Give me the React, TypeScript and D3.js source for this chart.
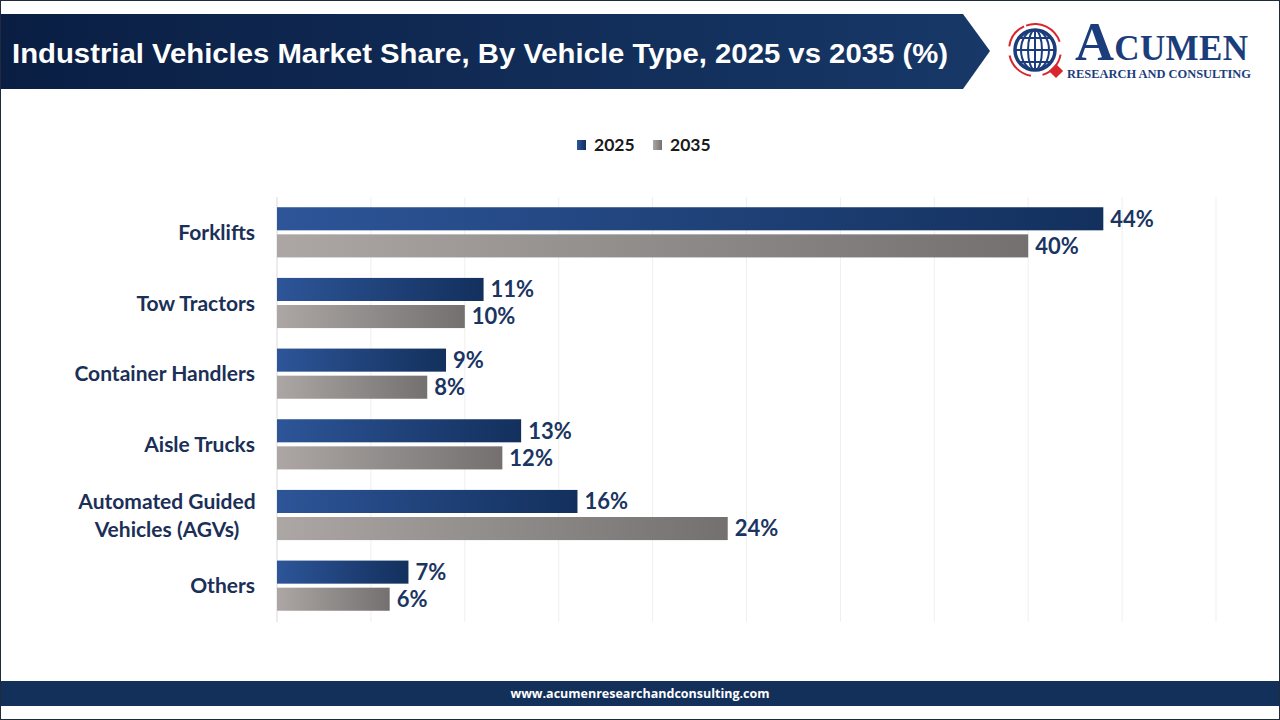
import React, { useEffect, useRef } from 'react';
import * as d3 from 'd3';

const categories = [
  'Forklifts',
  'Tow Tractors',
  'Container Handlers',
  'Aisle Trucks',
  'Automated Guided Vehicles (AGVs)',
  'Others',
];
const seriesNames = ['2025', '2035'];
const share2025 = [44, 11, 9, 13, 16, 7];
const share2035 = [40, 10, 8, 12, 24, 6];
const gridTicks = [0, 5, 10, 15, 20, 25, 30, 35, 40, 45, 50];

const W = 1280;
const H = 720;
const NAVY = '#13305b';
const LABEL = '#1b2f57';

// category labels that break onto two lines
const labelLines: Record<string, string[]> = {
  'Automated Guided Vehicles (AGVs)': ['Automated Guided', 'Vehicles (AGVs)'],
};

const App: React.FC = () => {
  const svgRef = useRef<SVGSVGElement>(null);

  useEffect(() => {
    if (!svgRef.current) return;
    const svg = d3.select(svgRef.current);
    svg.selectAll('*').remove();

    const defs = svg.append('defs');
    const grad = (id: string, from: string, to: string) => {
      const g = defs.append('linearGradient').attr('id', id).attr('x1', '0%').attr('x2', '100%').attr('y1', '0%').attr('y2', '0%');
      g.append('stop').attr('offset', '0%').attr('stop-color', from);
      g.append('stop').attr('offset', '100%').attr('stop-color', to);
    };
    grad('g2025', '#2d5598', '#13305d');
    grad('g2035', '#aca7a5', '#73706f');
    grad('gHead', '#0a1e43', '#173868');

    svg.append('rect').attr('width', W).attr('height', H).attr('fill', '#fff');

    // header banner with arrow tip
    svg.append('path')
      .attr('d', 'M1,14 L963,14 L990,51 L963,89 L1,89 Z')
      .attr('fill', 'url(#gHead)');
    svg.append('text')
      .attr('x', 12)
      .attr('y', 63)
      .attr('textLength', 936)
      .attr('lengthAdjust', 'spacingAndGlyphs')
      .style('font-family', '"Liberation Sans", Arial, sans-serif')
      .style('font-weight', 700)
      .style('font-size', '28px')
      .style('fill', '#fff')
      .text('Industrial Vehicles Market Share, By Vehicle Type, 2025 vs 2035 (%)');

    // logo: globe, circling arrows, diamond, wordmark
    const logo = svg.append('g').attr('transform', 'translate(1035,50)');
    const LOGO = '#1c3d7b';
    const RED = '#d8262c';
    const arcGen = d3.arc<any>();
    [[-0.35, 1.25], [1.75, 2.85], [3.3, 4.5], [4.85, 5.85]].forEach(([a0, a1]) => {
      logo.append('path')
        .attr('d', arcGen({ innerRadius: 25, outerRadius: 27, startAngle: a0, endAngle: a1 }) as string)
        .attr('fill', RED);
    });
    logo.append('circle').attr('r', 20).attr('fill', '#fff').attr('stroke', LOGO).attr('stroke-width', 3.5);
    [0.35, 0.7].forEach(k => {
      logo.append('ellipse').attr('rx', 20 * k).attr('ry', 20).attr('fill', 'none').attr('stroke', LOGO).attr('stroke-width', 2);
    });
    logo.append('line').attr('x1', 0).attr('x2', 0).attr('y1', -20).attr('y2', 20).attr('stroke', LOGO).attr('stroke-width', 2);
    [-12, 0, 12].forEach(y => {
      const half = Math.sqrt(20 * 20 - y * y);
      logo.append('line').attr('x1', -half).attr('x2', half).attr('y1', y).attr('y2', y).attr('stroke', LOGO).attr('stroke-width', 2);
    });
    logo.append('rect').attr('x', -5).attr('y', -5).attr('width', 10).attr('height', 10)
      .attr('transform', 'translate(21,21) rotate(45)').attr('fill', RED);

    const word = svg.append('text')
      .attr('x', 1075)
      .attr('y', 60)
      .attr('textLength', 173)
      .attr('lengthAdjust', 'spacing')
      .style('font-family', '"Liberation Serif", "Times New Roman", serif')
      .style('font-weight', 700)
      .style('fill', LOGO);
    word.append('tspan').style('font-size', '54px').text('A');
    word.append('tspan').style('font-size', '35px').text('CUMEN');
    svg.append('text')
      .attr('x', 1067)
      .attr('y', 78)
      .attr('textLength', 184)
      .attr('lengthAdjust', 'spacingAndGlyphs')
      .style('font-family', '"Liberation Serif", "Times New Roman", serif')
      .style('font-weight', 700)
      .style('font-size', '12px')
      .style('fill', LOGO)
      .text('RESEARCH AND CONSULTING');

    // legend
    const legend = svg.append('g').attr('transform', 'translate(577,145)');
    seriesNames.forEach((s, i) => {
      const lg = legend.append('g').attr('transform', `translate(${i * 76},0)`);
      lg.append('rect').attr('x', 0).attr('y', -5).attr('width', 9).attr('height', 10).attr('fill', `url(#g${s})`);
      lg.append('text')
        .attr('x', 17)
        .attr('y', 0)
        .attr('dy', '0.35em')
        .style('font-family', 'Lato, "Open Sans", sans-serif')
        .style('font-weight', 700)
        .style('font-size', '17.5px')
        .style('fill', '#1a1a1a')
        .text(s);
    });

    // scales
    const x = d3.scaleLinear().domain([0, 50]).range([277, 1216]);
    const y = d3.scaleBand<string>().domain(categories).range([197, 621]).paddingInner(0.29).paddingOuter(0.145);
    const ySub = d3.scaleBand<string>().domain(seriesNames).range([0, y.bandwidth()]).paddingInner(0.148);

    // gridlines
    svg.append('g')
      .selectAll('line')
      .data(gridTicks.slice(1))
      .enter()
      .append('line')
      .attr('x1', d => x(d))
      .attr('x2', d => x(d))
      .attr('y1', 197)
      .attr('y2', 622)
      .style('stroke', '#efefef')
      .style('stroke-width', 1);
    svg.append('line')
      .attr('x1', x(0)).attr('x2', x(0)).attr('y1', 197).attr('y2', 622)
      .style('stroke', '#d9d9d9').style('stroke-width', 1);

    // bars + value labels
    const rows = categories.map((c, i) => ({ c, vals: [share2025[i], share2035[i]] }));
    rows.forEach(r => {
      const g = svg.append('g').attr('transform', `translate(0,${y(r.c)})`);
      r.vals.forEach((v, j) => {
        const s = seriesNames[j];
        g.append('rect')
          .attr('x', x(0))
          .attr('y', ySub(s)!)
          .attr('width', x(v) - x(0))
          .attr('height', ySub.bandwidth())
          .attr('fill', `url(#g${s})`);
        g.append('text')
          .attr('x', x(v) + 7)
          .attr('y', ySub(s)! + ySub.bandwidth() / 2)
          .attr('dy', '0.36em')
          .style('font-family', 'Lato, "Open Sans", sans-serif')
          .style('font-weight', 700)
          .style('font-size', '22px')
          .style('fill', '#1a3561')
          .text(`${v}%`);
      });
    });

    // category labels
    categories.forEach(c => {
      const lines = labelLines[c] || [c];
      const cy = y(c)! + y.bandwidth() / 2;
      const t = svg.append('text')
        .attr('y', cy)
        .style('font-family', 'Lato, "Open Sans", sans-serif')
        .style('font-weight', 700)
        .style('font-size', '21px')
        .style('fill', LABEL);
      if (lines.length === 1) {
        t.attr('x', 255).attr('text-anchor', 'end').attr('dy', '0.36em').text(c);
      } else {
        t.attr('x', 167).attr('text-anchor', 'middle');
        lines.forEach((l, k) => {
          t.append('tspan')
            .attr('x', 167)
            .attr('dy', k === 0 ? `${0.36 - 0.66}em` : '1.33em')
            .text(l);
        });
      }
    });

    // footer band
    svg.append('rect').attr('x', 1).attr('y', 681).attr('width', W - 2).attr('height', 25).attr('fill', NAVY);
    svg.append('text')
      .attr('x', W / 2)
      .attr('y', 694)
      .attr('dy', '0.35em')
      .attr('text-anchor', 'middle')
      .style('font-family', '"Open Sans", sans-serif')
      .style('font-weight', 700)
      .style('font-size', '12.5px')
      .style('fill', '#fff')
      .text('www.acumenresearchandconsulting.com');

    svg.append('rect')
      .attr('x', 0.5).attr('y', 0.5).attr('width', W - 1).attr('height', H - 1)
      .attr('fill', 'none').attr('stroke', '#1f2b3a').attr('stroke-width', 1);
  }, []);

  return (
    <svg
      ref={svgRef}
      width={W}
      height={H}
      style={{ position: 'absolute', left: 0, top: 0, display: 'block' }}
    />
  );
};

export default App;
